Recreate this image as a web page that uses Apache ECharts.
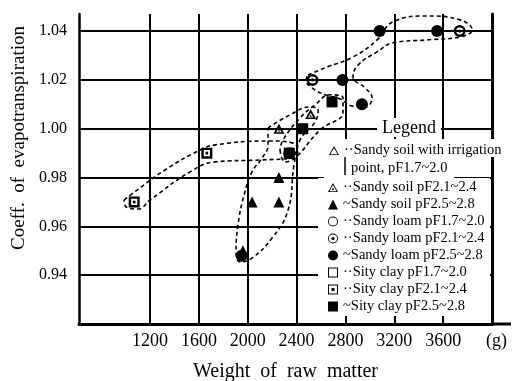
<!DOCTYPE html>
<html>
<head>
<meta charset="utf-8">
<script src="https://cdn.jsdelivr.net/npm/echarts@6/dist/echarts.min.js"></script>
<style>
  html, body { margin: 0; padding: 0; background: #fff; }
  #chart { width: 522px; height: 381px; }
</style>
</head>
<body>
<div id="chart"></div>
<script>
// Axis ticks
const xTicks = [1200, 1600, 2000, 2400, 2800, 3200, 3600, 4000];
const yTicks = [0.94, 0.96, 0.98, 1.00, 1.02, 1.04];

// Measurements: [weight of raw matter (g), coeff. of evapotranspiration]
const sandyIrrig = [];
const sandy21 = [[2255, 1.000], [2515, 1.006]];
const sandy25 = [[1960, 0.950], [2035, 0.970], [2255, 0.970], [2255, 0.980]];
const loam17 = [];
const loam21 = [[2530, 1.020], [3735, 1.040]];
const loam25 = [[1950, 0.948], [2340, 0.990], [2775, 1.020], [2935, 1.010], [3080, 1.040], [3550, 1.040]];
const clay17 = [];
const clay21 = [[1070, 0.970], [1665, 0.990]];
const clay25 = [[2340, 0.990], [2450, 1.000], [2690, 1.011]];

// Hand-drawn grouping loops (dashed), in data units
const loopClay = [[987,0.9708],[1052,0.9733],[1322,0.9831],[1609,0.9913],[1732,0.9934],[2182,0.9950],[2363,0.9942],[2412,0.9913],[2363,0.9880],[2101,0.9872],[1732,0.9864],[1527,0.9823],[1200,0.9708],[1101,0.9671],[1003,0.9680],[987,0.9708]];
const loopSandy = [[2166,1.0003],[2346,1.0057],[2510,1.0089],[2576,1.0077],[2551,1.0028],[2428,0.9954],[2379,0.9852],[2330,0.9667],[2199,0.9552],[2035,0.9470],[1937,0.9454],[1904,0.9495],[1920,0.9606],[1970,0.9729],[2035,0.9823],[2117,0.9880],[2166,0.9934],[2166,1.0003]];
const loopClayDense = [[2264,0.9913],[2305,0.9864],[2387,0.9880],[2592,0.9995],[2780,1.0069],[2780,1.0126],[2674,1.0139],[2551,1.0098],[2428,1.0044],[2289,0.9954],[2264,0.9913]];
const loopLoam = [[2494,1.0220],[2649,1.0253],[2862,1.0294],[3059,1.0364],[3190,1.0438],[3468,1.0462],[3739,1.0446],[3837,1.0405],[3739,1.0376],[3468,1.0364],[3190,1.0352],[3059,1.0315],[2903,1.0261],[2862,1.0212],[2961,1.0167],[3018,1.0126],[2961,1.0089],[2854,1.0093],[2756,1.0122],[2633,1.0139],[2527,1.0167],[2477,1.0200],[2494,1.0220]];

// Symbol shapes (ring / ring with centre dot), filled with the nonzero rule.
// Heavy variants mark the measured points, light variants sit in the legend.
const TRI_RING = 'path://M5,0 L10,9 L0,9 Z M5,3.4 L2.6,7.6 L7.4,7.6 Z';
const TRI_DOT = TRI_RING + ' M5,5.2 L6.1,6.9 L3.9,6.9 Z';
const TRI_RING_L = 'path://M5,0 L10,9 L0,9 Z M5,1.9 L1.4,8.2 L8.6,8.2 Z';
const TRI_DOT_L = TRI_RING_L + ' M5,4.6 L6.3,6.9 L3.7,6.9 Z';
const CIRC_RING = 'path://M5,0 A5,5 0 1,1 5,10 A5,5 0 1,1 5,0 Z M5,2.1 A2.9,2.9 0 1,0 5,7.9 A2.9,2.9 0 1,0 5,2.1 Z';
const CIRC_DOT = CIRC_RING + ' M5,3.7 A1.3,1.3 0 1,1 5,6.3 A1.3,1.3 0 1,1 5,3.7 Z';
const CIRC_RING_L = 'path://M5,0 A5,5 0 1,1 5,10 A5,5 0 1,1 5,0 Z M5,0.9 A4.1,4.1 0 1,0 5,9.1 A4.1,4.1 0 1,0 5,0.9 Z';
const CIRC_DOT_L = CIRC_RING_L + ' M5,3.4 A1.6,1.6 0 1,1 5,6.6 A1.6,1.6 0 1,1 5,3.4 Z';
const SQ_RING = 'path://M0,0 L10,0 L10,10 L0,10 Z M2.2,2.2 L2.2,7.8 L7.8,7.8 L7.8,2.2 Z';
const SQ_DOT = SQ_RING + ' M3.8,3.8 L6.2,3.8 L6.2,6.2 L3.8,6.2 Z';
const SQ_RING_L = 'path://M0,0 L10,0 L10,10 L0,10 Z M1,1 L1,9 L9,9 L9,1 Z';
const SQ_DOT_L = SQ_RING_L + ' M3.5,3.5 L6.5,3.5 L6.5,6.5 L3.5,6.5 Z';

const SERIF = '"Liberation Serif", "DejaVu Serif", serif';
const black = '#000';

const prefix = {
  'Sandy soil with irrigation point, pF1.7~2.0': '··',
  'Sandy soil pF2.1~2.4': '··',
  'Sandy soil pF2.5~2.8': '~',
  'Sandy loam pF1.7~2.0': '··',
  'Sandy loam pF2.1~2.4': '··',
  'Sandy loam pF2.5~2.8': '~',
  'Sity clay pF1.7~2.0': '··',
  'Sity clay pF2.1~2.4': '··',
  'Sity clay pF2.5~2.8': '~'
};

function scatter(name, data, symbol, size) {
  return {
    name: name, type: 'scatter', data: data, symbol: symbol, symbolSize: size,
    itemStyle: { color: black, borderWidth: 0, opacity: 1 },
    z: 3
  };
}
function loop(data) {
  return {
    type: 'line', data: data, smooth: 0.45, symbol: 'none', silent: true,
    lineStyle: { color: black, width: 1.6, type: [4, 3] }, z: 2
  };
}

const chart = echarts.init(document.getElementById('chart'), null, { renderer: 'canvas' });
chart.setOption({
  animation: false,
  backgroundColor: '#fff',
  grid: { left: 79, top: 14, width: 413, height: 310, containLabel: false, outerBoundsMode: 'none' },
  xAxis: {
    type: 'value', min: 618, max: 4000,
    name: 'Weight  of  raw  matter', nameLocation: 'middle', nameGap: 38,
    nameTextStyle: { fontFamily: SERIF, fontSize: 20, color: black },
    axisLine: { lineStyle: { color: black, width: 3 } },
    axisTick: { show: false, customValues: xTicks },
    axisLabel: {
      customValues: xTicks, margin: 8, fontFamily: SERIF, fontSize: 18, color: black,
      formatter: v => (v === 4000 ? '  (g)' : String(v))
    },
    splitLine: { show: true, lineStyle: { color: black, width: 2 } }
  },
  yAxis: [{
    type: 'value', min: 0.92, max: 1.047,
    name: 'Coeff.  of  evapotranspiration', nameLocation: 'middle', nameGap: 43,
    nameTextStyle: { fontFamily: SERIF, fontSize: 19, color: black, padding: [0, 0, 0, 62] },
    axisLine: { show: true, lineStyle: { color: black, width: 2.5 } },
    axisTick: { show: false, customValues: yTicks },
    axisLabel: {
      customValues: yTicks, margin: 12, fontFamily: SERIF, fontSize: 16, color: black,
      formatter: v => v.toFixed(2)
    },
    splitLine: { show: true, lineStyle: { color: black, width: 2 } }
  }, {
    type: 'value', position: 'right', min: 0.92, max: 1.047,
    axisLine: { show: true, lineStyle: { color: black, width: 3 } },
    axisTick: { show: false }, axisLabel: { show: false }, splitLine: { show: false }
  }],
  legend: [{
    data: [{ name: 'Sandy soil with irrigation point, pF1.7~2.0', icon: TRI_RING_L }],
    left: 324, top: 138, itemWidth: 10, itemHeight: 9, itemGap: 0,
    textStyle: { fontFamily: SERIF, fontSize: 14.5, color: black },
    formatter: () => '··Sandy soil with irrigation',
    selectedMode: false
  }, {
    data: [
      { name: 'Sandy soil pF2.1~2.4', icon: TRI_DOT_L },
      { name: 'Sandy soil pF2.5~2.8', icon: 'triangle' },
      { name: 'Sandy loam pF1.7~2.0', icon: CIRC_RING_L },
      { name: 'Sandy loam pF2.1~2.4', icon: CIRC_DOT_L },
      { name: 'Sandy loam pF2.5~2.8', icon: 'circle' },
      { name: 'Sity clay pF1.7~2.0', icon: SQ_RING_L },
      { name: 'Sity clay pF2.1~2.4', icon: SQ_DOT_L },
      { name: 'Sity clay pF2.5~2.8', icon: 'rect' }
    ],
    orient: 'vertical', left: 323, top: 175, itemWidth: 10, itemHeight: 10, itemGap: 2,
    textStyle: { fontFamily: SERIF, fontSize: 14.5, color: black, lineHeight: 14 },
    formatter: n => prefix[n] + n,
    selectedMode: false
  }],
  graphic: [
    { type: 'rect', z: 3, shape: { x: 318, y: 178, width: 172, height: 138 }, style: { fill: '#fff' } },
    { type: 'rect', z: 3, shape: { x: 321, y: 139, width: 182, height: 18 }, style: { fill: '#fff' } },
    { type: 'rect', z: 3, shape: { x: 324, y: 157, width: 130, height: 21 }, style: { fill: '#fff' } },
    { type: 'rect', z: 3, shape: { x: 377, y: 118, width: 64, height: 19 }, style: { fill: '#fff' } },
    { type: 'line', z: 4, shape: { x1: 345, y1: 157, x2: 345, y2: 175 }, style: { stroke: black, lineWidth: 1.5 } },
    { type: 'text', z: 5, x: 409, y: 128, style: { text: 'Legend', font: '18px ' + SERIF, fill: black, align: 'center', verticalAlign: 'middle' } },
    { type: 'text', z: 5, x: 351, y: 168, style: { text: 'point, pF1.7~2.0', font: '14.5px ' + SERIF, fill: black, align: 'left', verticalAlign: 'middle' } },
    { type: 'line', z: 3, shape: { x1: 492, y1: 324, x2: 511, y2: 324 }, style: { stroke: black, lineWidth: 3 } }
  ],
  series: [
    loop(loopClay), loop(loopSandy), loop(loopClayDense), loop(loopLoam),
    scatter('Sandy soil with irrigation point, pF1.7~2.0', sandyIrrig, TRI_RING, [10, 9]),
    scatter('Sandy loam pF1.7~2.0', loam17, CIRC_RING, 11),
    scatter('Sandy loam pF2.1~2.4', loam21, CIRC_DOT, 12),
    scatter('Sandy loam pF2.5~2.8', loam25, 'circle', 12),
    scatter('Sity clay pF1.7~2.0', clay17, SQ_RING, 11),
    scatter('Sity clay pF2.1~2.4', clay21, SQ_DOT, 11),
    scatter('Sity clay pF2.5~2.8', clay25, 'rect', 11),
    scatter('Sandy soil pF2.1~2.4', sandy21, TRI_DOT, [11, 10]),
    scatter('Sandy soil pF2.5~2.8', sandy25, 'triangle', [11, 11])
  ]
});
</script>
</body>
</html>
